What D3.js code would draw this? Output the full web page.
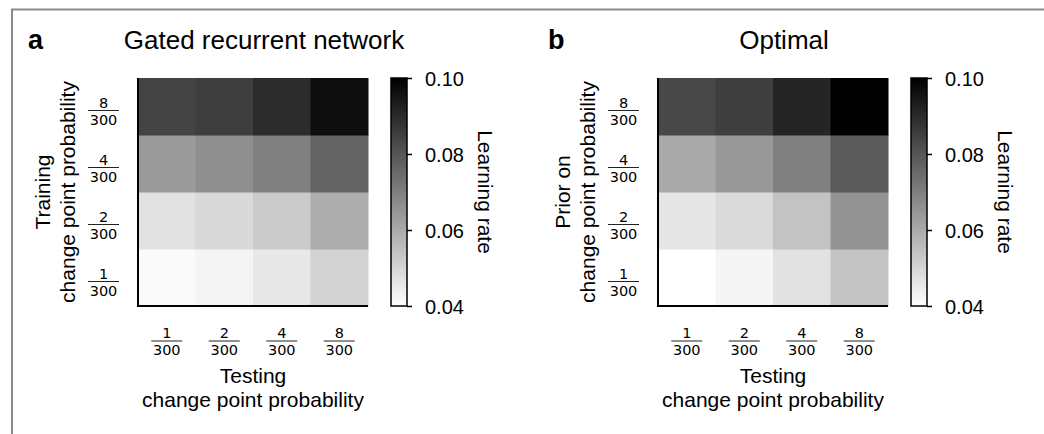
<!DOCTYPE html>
<html>
<head>
<meta charset="utf-8">
<script src="https://cdn.jsdelivr.net/npm/d3@7"></script>
<style>
  body { margin: 0; background: #fff; }
  svg text { font-family: "Liberation Sans", Arial, sans-serif; fill: #000; }
  .frac { font-family: "DejaVu Sans", sans-serif; font-size: 14.5px; }
</style>
</head>
<body>
<div id="container"></div>
<script>
// change point probabilities (numerators over 300)
const probs = [1, 2, 4, 8];
const cbarTicks = [0.04, 0.06, 0.08, 0.10];

// learning rates, rows = training / prior probability (1,2,4,8), cols = testing probability (1,2,4,8)
const gruRates = [
  [0.0412, 0.0426, 0.0454, 0.0504],
  [0.0471, 0.0489, 0.0522, 0.0593],
  [0.0638, 0.0664, 0.0699, 0.0765],
  [0.0840, 0.0854, 0.0896, 0.0969]
];
const optimalRates = [
  [0.0400, 0.0424, 0.0468, 0.0539],
  [0.0459, 0.0487, 0.0541, 0.0654],
  [0.0600, 0.0640, 0.0699, 0.0788],
  [0.0831, 0.0852, 0.0913, 0.1000]
];

const w = 1044, h = 434;
const svg = d3.select("#container").append("svg").attr("width", w).attr("height", h);

// frame lines (top + left)
svg.append("path")
  .attr("d", `M12,${h} V9.5 H${w}`)
  .attr("fill", "none").attr("stroke", "#8a8a8a").attr("stroke-width", 2);

const hmW = 230, hmH = 228;
const color = d3.scaleLinear().domain([0.04, 0.10]).range(["#ffffff", "#000000"]).clamp(true);

// gradient for the colorbars
const grad = svg.append("defs").append("linearGradient")
  .attr("id", "cbgrad").attr("x1", 0).attr("y1", 1).attr("x2", 0).attr("y2", 0);
d3.range(0, 1.0001, 0.1).forEach(t => {
  grad.append("stop").attr("offset", t).attr("stop-color", color(0.04 + 0.06 * t));
});

function fraction(g, x, yLine, num) {
  g.append("text").attr("class", "frac").attr("x", x).attr("y", yLine - 3)
    .attr("text-anchor", "middle").text(num);
  g.append("line").attr("x1", x - 15.5).attr("x2", x + 15.5)
    .attr("y1", yLine).attr("y2", yLine).attr("stroke", "#222").attr("stroke-width", 1);
  g.append("text").attr("class", "frac").attr("x", x).attr("y", yLine + 14)
    .attr("text-anchor", "middle").text("300");
}

function drawPanel(ox, letter, title, yLines, data) {
  const panel = svg.append("g").attr("transform", `translate(${ox},0)`);
  const graph = panel.append("g").attr("transform", "translate(138,78)");

  const xScale = d3.scaleBand().domain(probs).range([0, hmW]);
  const yScale = d3.scaleBand().domain(probs).range([hmH, 0]);

  const cells = [];
  probs.forEach((r, i) => probs.forEach((c, j) => cells.push({row: r, col: c, v: data[i][j]})));

  graph.selectAll("rect.cell")
    .data(cells)
    .enter()
    .append("rect")
      .attr("class", "cell")
      .attr("x", d => xScale(d.col))
      .attr("y", d => yScale(d.row))
      .attr("width", xScale.bandwidth() + 0.5)
      .attr("height", yScale.bandwidth() + 0.5)
      .attr("fill", d => color(d.v));

  // spines
  graph.append("path")
    .attr("d", `M0,0 V${hmH} H${hmW}`)
    .attr("fill", "none").attr("stroke", "#000").attr("stroke-width", 2);

  // fraction tick labels
  probs.forEach(p => {
    fraction(graph, xScale(p) + xScale.bandwidth() / 2, hmH + 35, p);
    fraction(graph, -34.5, yScale(p) + yScale.bandwidth() / 2 + 4, p);
  });

  // titles
  panel.append("text").attr("x", 28).attr("y", 49)
    .style("font-size", "27px").style("font-weight", "bold").text(letter);
  panel.append("text").attr("x", 264).attr("y", 49).attr("text-anchor", "middle")
    .style("font-size", "26px").text(title);

  // axis labels
  const xl = panel.append("text").attr("text-anchor", "middle").style("font-size", "21px");
  xl.append("tspan").attr("x", 253).attr("y", 383).text("Testing");
  xl.append("tspan").attr("x", 253).attr("y", 407).text("change point probability");

  const yl = panel.append("text").attr("text-anchor", "middle").style("font-size", "21px")
    .attr("transform", "translate(0,192) rotate(-90)");
  yl.append("tspan").attr("x", 0).attr("y", 50).text(yLines[0]);
  yl.append("tspan").attr("x", 0).attr("y", 75).text(yLines[1]);

  // colorbar
  const cb = panel.append("g").attr("transform", "translate(391,78)");
  cb.append("rect").attr("width", 16).attr("height", hmH)
    .attr("fill", "url(#cbgrad)").attr("stroke", "#000").attr("stroke-width", 1.5);
  const cbScale = d3.scaleLinear().domain([0.04, 0.10]).range([hmH, 0]);
  const cbAxis = d3.axisRight(cbScale).tickValues(cbarTicks).tickFormat(d3.format(".2f"))
    .tickSize(5).tickPadding(13);
  const ax = cb.append("g").attr("transform", "translate(16,0)").call(cbAxis);
  ax.select(".domain").remove();
  ax.selectAll(".tick line").attr("stroke", "#000").attr("stroke-width", 1.5);
  ax.selectAll(".tick text").style("font-size", "20px")
    .style("font-family", "'Liberation Sans', Arial, sans-serif").attr("dy", "0.38em");

  panel.append("text").attr("transform", "translate(478,192) rotate(90)")
    .attr("text-anchor", "middle").style("font-size", "21px").text("Learning rate");
}

drawPanel(0, "a", "Gated recurrent network", ["Training", "change point probability"], gruRates);
drawPanel(520, "b", "Optimal", ["Prior on", "change point probability"], optimalRates);
</script>
</body>
</html>
